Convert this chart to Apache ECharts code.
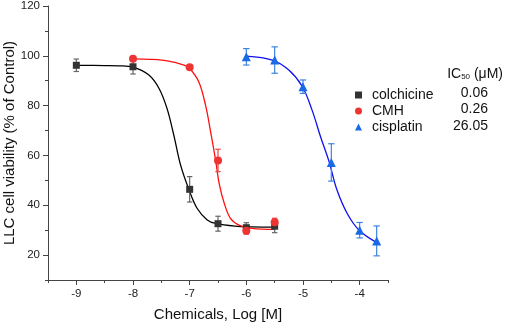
<!DOCTYPE html>
<html>
<head>
<meta charset="utf-8">
<script src="https://cdn.jsdelivr.net/npm/echarts@6/dist/echarts.min.js"></script>
<style>html,body{margin:0;padding:0;background:#fff}#c{width:505px;height:325px}</style>
</head>
<body>
<div id="c"></div>
<script>
// ---- data ----
var seriesNames = ['colchicine', 'CMH', 'cisplatin'];
var ic50Labels = ['0.06', '0.26', '26.05'];
var xTickLabels = [-9, -8, -7, -6, -5, -4];
var yTickLabels = [20, 40, 60, 80, 100, 120];

var colchicineX = [-9, -8, -7, -6.5, -6, -5.5];
var colchicineY = [96.2, 95.6, 46.4, 32.6, 31.0, 31.6];
var colchicineErr = [2.5, 2.9, 5.1, 3.0, 2.0, 2.6];

var cmhX = [-8, -7, -6.5, -6, -5.5];
var cmhY = [98.8, 95.4, 58.0, 29.8, 33.2];
var cmhErr = [0.6, 0.6, 4.5, 1.4, 1.6];

var cisplatinX = [-6, -5.5, -5, -4.5, -4, -3.7];
var cisplatinY = [99.6, 98.3, 87.6, 57.2, 30.0, 25.7];
var cisplatinErr = [3.3, 5.3, 2.7, 7.5, 3.1, 6.0];

// fitted curves
var colchicineFitX = [-9, -8.5, -8.25, -8.0, -7.72, -7.54, -7.40, -7.28, -7.16, -7.01, -6.87, -6.69, -6.54, -6.2, -5.9, -5.5];
var colchicineFitY = [96.2, 96.1, 96.0, 95.5, 92.3, 86.9, 78.9, 68.2, 56.1, 46.1, 38.8, 34.1, 32.7, 31.6, 31.3, 31.2];
var cmhFitX = [-8, -7.7, -7.37, -7.1, -7.01, -6.84, -6.72, -6.63, -6.54, -6.48, -6.39, -6.28, -6.13, -5.9, -5.5];
var cmhFitY = [98.8, 98.6, 97.9, 96.3, 95.2, 89.6, 80.2, 69.5, 57.8, 48.8, 40.8, 34.7, 32.0, 30.7, 30.3];
var cisplatinFitX = [-6.0, -5.54, -5.25, -5.01, -4.84, -4.69, -4.54, -4.40, -4.22, -4.01, -3.72];
var cisplatinFitY = [99.9, 98.3, 94.3, 87.6, 78.2, 67.5, 57.5, 46.1, 36.7, 30.0, 25.3];

function zip(xs, ys) { return xs.map(function (x, i) { return [x, ys[i]]; }); }
function zipErr(xs, ys, es) { return xs.map(function (x, i) { return [x, ys[i] - es[i], ys[i] + es[i]]; }); }

var FONT = 'Liberation Sans, Arial, sans-serif';
var AXIS_COLOR = '#444';

function errSeries(name, data, color, cap) {
  return {
    name: name + ' err', type: 'custom', silent: true, z: 3,
    data: data,
    renderItem: function (params, api) {
      var x = api.value(0), lo = api.value(1), hi = api.value(2);
      var p1 = api.coord([x, lo]), p2 = api.coord([x, hi]);
      var st = { stroke: color, lineWidth: 1.2 };
      return { type: 'group', children: [
        { type: 'line', shape: { x1: p1[0], y1: p1[1], x2: p2[0], y2: p2[1] }, style: st },
        { type: 'line', shape: { x1: p1[0] - cap, y1: p1[1], x2: p1[0] + cap, y2: p1[1] }, style: st },
        { type: 'line', shape: { x1: p2[0] - cap, y1: p2[1], x2: p2[0] + cap, y2: p2[1] }, style: st }
      ] };
    }
  };
}
function fitSeries(name, data, color) {
  return { name: name + ' fit', type: 'line', data: data, smooth: 0.35, showSymbol: false, silent: true, z: 2,
    lineStyle: { color: color, width: 1.3 } };
}
function ptSeries(name, data, color, symbol, size) {
  return { name: name, type: 'scatter', data: data, symbol: symbol, symbolSize: size, z: 4,
    itemStyle: { color: color, opacity: 1 } };
}

var chart = echarts.init(document.getElementById('c'), null, { renderer: 'canvas' });
chart.setOption({
  animation: false,
  backgroundColor: '#fff',
  textStyle: { fontFamily: FONT },
  grid: { left: 48, right: 117, top: 6, bottom: 45, containLabel: false, outerBoundsMode: 'none' },
  xAxis: [{
    type: 'value', min: -9.5, max: -3.5, interval: 0.5,
    name: 'Chemicals, Log [M]', nameLocation: 'middle', nameGap: 27, nameMoveOverlap: false,
    nameTextStyle: { fontSize: 15, color: '#111', fontFamily: FONT },
    axisLine: { show: true, onZero: false, lineStyle: { color: AXIS_COLOR, width: 1 } },
    axisTick: { show: true, length: 5, customValues: xTickLabels, lineStyle: { color: AXIS_COLOR } },
    axisLabel: { show: true, customValues: xTickLabels, fontSize: 11.5, color: '#222', margin: 8, fontFamily: FONT },
    splitLine: { show: false }
  }, {
    type: 'value', min: -9.5, max: -3.5, interval: 0.5, position: 'bottom',
    axisLine: { show: false, onZero: false },
    axisTick: { show: true, length: 3, lineStyle: { color: AXIS_COLOR } },
    axisLabel: { show: false }, splitLine: { show: false }
  }],
  yAxis: [{
    type: 'value', min: 10, max: 120, interval: 10, position: 'left',
    name: 'LLC cell viability (% of Control)', nameLocation: 'middle', nameGap: 31, nameMoveOverlap: false,
    nameTextStyle: { fontSize: 15, color: '#111', fontFamily: FONT },
    axisLine: { show: true, onZero: false, lineStyle: { color: AXIS_COLOR, width: 1 } },
    axisTick: { show: true, length: 5, customValues: yTickLabels, lineStyle: { color: AXIS_COLOR } },
    axisLabel: { show: true, customValues: yTickLabels, fontSize: 11.5, color: '#222', margin: 8, fontFamily: FONT },
    splitLine: { show: false }
  }, {
    type: 'value', min: 10, max: 120, interval: 10, position: 'left', offset: 0,
    axisLine: { show: false, onZero: false },
    axisTick: { show: true, length: 3, lineStyle: { color: AXIS_COLOR } },
    axisLabel: { show: false }, splitLine: { show: false }
  }],
  legend: {
    data: seriesNames, orient: 'vertical', left: 350, top: 83,
    itemWidth: 7, itemHeight: 7, itemGap: 2,
    formatter: function (name) { return '{t|' + name + '}'; },
    textStyle: { fontSize: 14, color: '#111', fontFamily: FONT, lineHeight: 14,
      rich: { t: { fontSize: 14, fontFamily: FONT, color: '#111', padding: [0, 0, 0, 5], lineHeight: 14 } } },
    selectedMode: false
  },
  graphic: [
    { type: 'text', right: 2, top: 67, style: {
      text: '{a|IC}{s|50}{a| (μM)}', fill: '#111', font: '14px ' + FONT,
      rich: { a: { fontSize: 14, fontFamily: FONT, fill: '#111', verticalAlign: 'bottom', lineHeight: 16 },
              s: { fontSize: 8, fontFamily: FONT, fill: '#111', verticalAlign: 'bottom', lineHeight: 12 } } } },
    { type: 'group', right: 17, top: 86, children: ic50Labels.map(function (t, i) {
      return { type: 'text', x: 0, y: i * 16.5, style: { text: t, fill: '#111', font: '14px ' + FONT, align: 'right' } };
    }) }
  ],
  series: [
    fitSeries('colchicine', zip(colchicineFitX, colchicineFitY), '#000000'),
    fitSeries('CMH', zip(cmhFitX, cmhFitY), '#ff1010'),
    fitSeries('cisplatin', zip(cisplatinFitX, cisplatinFitY), '#1010f0'),
    errSeries('colchicine', zipErr(colchicineX, colchicineY, colchicineErr), '#666666', 2.7),
    errSeries('CMH', zipErr(cmhX, cmhY, cmhErr), '#f04040', 2.7),
    errSeries('cisplatin', zipErr(cisplatinX, cisplatinY, cisplatinErr), '#3c84e0', 3.2),
    ptSeries('colchicine', zip(colchicineX, colchicineY), '#333333', 'rect', 7),
    ptSeries('CMH', zip(cmhX, cmhY), '#ee3333', 'circle', 8),
    ptSeries('cisplatin', zip(cisplatinX, cisplatinY), '#1a6ae6', 'triangle', 9)
  ]
});
</script>
</body>
</html>
